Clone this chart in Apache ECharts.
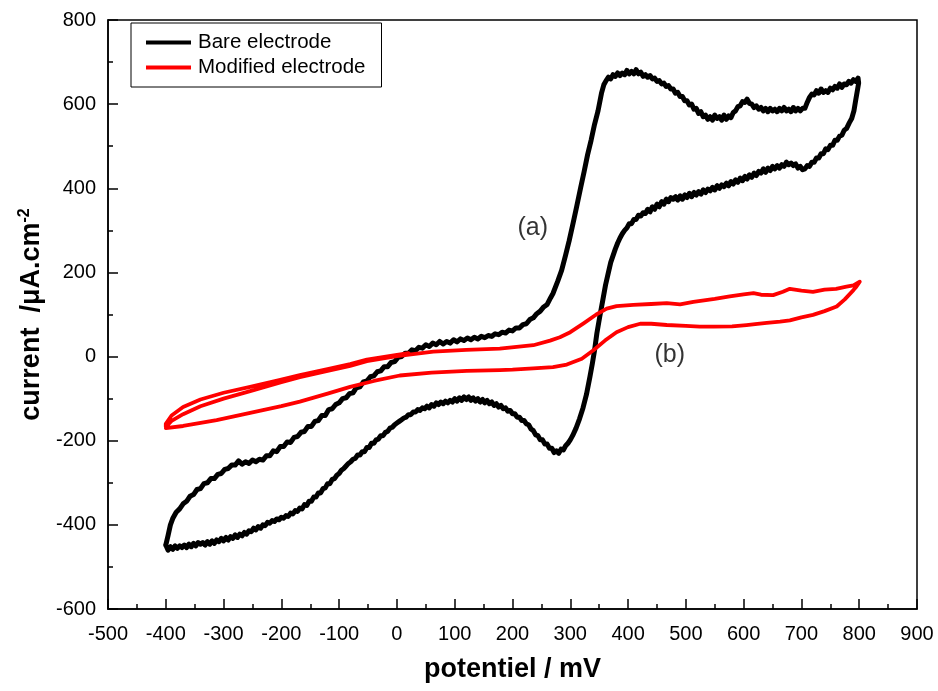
<!DOCTYPE html>
<html>
<head>
<meta charset="utf-8">
<script src="https://cdn.jsdelivr.net/npm/echarts@6/dist/echarts.min.js"></script>
<style>
  html, body { margin: 0; padding: 0; background: #fff; }
  #chart { width: 938px; height: 691px; }
</style>
</head>
<body>
<div id="chart"></div>
<script>
// Cyclic voltammograms: potential (mV) vs current density (µA.cm-2)

const seriesNames = ['Bare electrode', 'Modified electrode'];

// Bare electrode, anodic sweep -400 -> 800 mV
const bareForward = [
  [-400, -448], [-396, -425], [-392, -400], [-388, -385], [-382, -370], [-376, -362],
  [-370, -350], [-364, -344], [-358, -332], [-352, -328], [-346, -316], [-340, -314],
  [-334, -302], [-328, -300], [-322, -290], [-316, -290], [-310, -280], [-304, -278],
  [-298, -268], [-292, -266], [-286, -258], [-280, -258], [-274, -248], [-268, -256],
  [-262, -250], [-256, -254], [-250, -246], [-244, -250], [-238, -244], [-232, -246],
  [-226, -236], [-220, -236], [-214, -224], [-208, -226], [-202, -214], [-196, -214],
  [-190, -203], [-184, -204], [-178, -192], [-172, -190], [-166, -180], [-160, -178],
  [-154, -166], [-148, -166], [-142, -154], [-136, -152], [-130, -140], [-124, -140],
  [-118, -126], [-112, -124], [-106, -114], [-100, -110], [-94, -100], [-88, -98],
  [-82, -88], [-76, -86], [-70, -74], [-64, -72], [-58, -60], [-52, -58], [-46, -48],
  [-40, -46], [-34, -36], [-28, -34], [-22, -24], [-16, -24], [-10, -14], [-4, -12],
  [2, -2], [8, 0], [14, 8], [20, 8], [26, 16], [32, 14], [38, 22], [44, 20], [50, 28],
  [56, 24], [62, 32], [68, 28], [74, 36], [80, 30], [86, 36], [92, 32], [98, 40],
  [104, 35], [110, 42], [116, 38], [122, 44], [128, 40], [134, 46], [140, 42],
  [146, 48], [152, 45], [158, 50], [164, 48], [170, 54], [176, 52], [182, 58],
  [188, 56], [194, 63], [200, 61], [206, 68], [212, 68], [218, 76], [224, 78],
  [230, 88], [236, 92], [242, 102], [248, 108], [254, 118], [260, 124], [266, 140],
  [270, 150], [278, 178], [285, 205], [292, 242], [298, 275], [305, 318], [311, 356],
  [318, 402], [324, 440], [330, 480], [336, 514], [342, 552], [348, 584], [354, 626],
  [358, 646], [362, 656], [366, 664], [370, 660], [374, 670], [378, 666], [382, 674],
  [386, 668], [390, 674], [394, 670], [398, 680], [402, 672], [406, 678], [410, 672],
  [414, 682], [418, 672], [422, 676], [426, 666], [430, 670], [434, 664], [438, 668],
  [442, 660], [446, 662], [450, 654], [454, 656], [458, 648], [462, 650], [466, 642],
  [470, 644], [474, 636], [478, 636], [482, 626], [486, 628], [490, 618], [494, 618],
  [498, 608], [502, 608], [506, 598], [510, 600], [514, 588], [518, 590], [522, 578],
  [526, 582], [530, 570], [534, 574], [538, 564], [542, 570], [546, 562], [550, 574],
  [554, 566], [558, 570], [562, 562], [566, 574], [570, 564], [574, 572], [578, 568],
  [582, 580], [586, 584], [590, 594], [594, 596], [598, 606], [602, 604], [606, 612],
  [610, 602], [614, 600], [618, 592], [622, 596], [626, 588], [630, 592], [634, 584],
  [638, 590], [642, 582], [646, 590], [650, 584], [654, 588], [658, 582], [662, 590],
  [666, 584], [670, 592], [674, 584], [678, 588], [682, 582], [686, 592], [690, 584],
  [694, 590], [698, 584], [702, 590], [706, 590], [710, 604], [714, 616], [718, 624],
  [722, 622], [726, 632], [730, 626], [734, 636], [738, 628], [742, 632], [746, 628],
  [750, 638], [754, 634], [758, 642], [762, 638], [766, 648], [770, 640], [774, 648],
  [778, 646], [782, 654], [786, 650], [790, 658], [794, 654], [798, 662], [800, 666]
];

// Bare electrode, cathodic sweep 800 -> -400 mV
const bareReverse = [
  [800, 666], [799, 650], [797, 634], [794, 610], [791, 585], [787, 566], [783, 556],
  [778, 542], [774, 538], [770, 526], [766, 524], [762, 514], [758, 514], [754, 502],
  [750, 502], [746, 492], [742, 494], [738, 482], [734, 482], [730, 472], [726, 472],
  [722, 462], [718, 462], [714, 452], [710, 454], [706, 446], [702, 444], [698, 452],
  [694, 448], [690, 458], [686, 454], [682, 460], [678, 456], [674, 462], [670, 452],
  [666, 456], [662, 448], [658, 454], [654, 446], [650, 452], [646, 442], [642, 448],
  [638, 438], [634, 446], [630, 436], [626, 440], [622, 430], [618, 436], [614, 426],
  [610, 432], [606, 422], [602, 428], [598, 418], [594, 424], [590, 414], [586, 420],
  [582, 410], [578, 416], [574, 406], [570, 412], [566, 404], [562, 408], [558, 400],
  [554, 406], [550, 396], [546, 402], [542, 394], [538, 398], [534, 390], [530, 396],
  [526, 386], [522, 392], [518, 384], [514, 390], [510, 380], [506, 388], [502, 378],
  [498, 384], [494, 374], [490, 382], [486, 372], [482, 380], [478, 374], [474, 378],
  [470, 368], [466, 374], [462, 362], [458, 368], [454, 356], [450, 362], [446, 350],
  [442, 356], [438, 344], [434, 350], [430, 340], [426, 342], [422, 334], [418, 336],
  [414, 326], [410, 326], [406, 316], [402, 316], [398, 306], [394, 300], [390, 292],
  [386, 282], [382, 270], [378, 256], [374, 240], [370, 224], [366, 200], [361, 170],
  [356, 132], [351, 95], [346, 55], [342, 15], [338, -18], [334, -48], [328, -90],
  [322, -122], [316, -148], [310, -170], [304, -188], [300, -198], [296, -206],
  [292, -212], [288, -222], [284, -220], [280, -230], [276, -224], [272, -228],
  [268, -218], [264, -218], [260, -208], [256, -208], [252, -198], [248, -198],
  [244, -188], [240, -186], [236, -176], [232, -172], [228, -162], [224, -160],
  [220, -152], [216, -152], [212, -144], [208, -144], [204, -136], [200, -136],
  [196, -128], [192, -130], [188, -122], [184, -124], [180, -116], [176, -120],
  [172, -112], [168, -116], [164, -108], [160, -112], [156, -104], [152, -110],
  [148, -102], [144, -108], [140, -100], [136, -106], [132, -98], [128, -104],
  [124, -96], [120, -102], [116, -96], [112, -104], [108, -98], [104, -106],
  [100, -100], [96, -108], [92, -104], [88, -110], [84, -106], [80, -112], [76, -108],
  [72, -114], [68, -110], [64, -118], [60, -114], [56, -122], [52, -118], [48, -124],
  [44, -122], [40, -128], [36, -126], [32, -132], [28, -132], [24, -138], [20, -138],
  [16, -144], [12, -146], [8, -150], [4, -154], [0, -158], [-4, -162], [-8, -168],
  [-12, -170], [-16, -178], [-20, -180], [-24, -188], [-28, -188], [-32, -196],
  [-36, -198], [-40, -206], [-44, -206], [-48, -216], [-52, -216], [-56, -226],
  [-60, -226], [-64, -234], [-68, -234], [-72, -242], [-76, -244], [-80, -250],
  [-84, -254], [-88, -260], [-92, -266], [-96, -270], [-100, -278], [-104, -282],
  [-108, -290], [-112, -292], [-116, -302], [-120, -302], [-124, -312], [-128, -314],
  [-132, -324], [-136, -324], [-140, -334], [-144, -334], [-148, -344], [-152, -344],
  [-156, -354], [-160, -352], [-164, -362], [-168, -360], [-172, -368], [-176, -366],
  [-180, -374], [-184, -372], [-188, -380], [-192, -378], [-196, -384], [-200, -382],
  [-204, -388], [-208, -386], [-212, -392], [-216, -390], [-220, -396], [-224, -394],
  [-228, -402], [-232, -400], [-236, -408], [-240, -404], [-244, -412], [-248, -408],
  [-252, -416], [-256, -414], [-260, -422], [-264, -418], [-268, -426], [-272, -422],
  [-276, -430], [-280, -424], [-284, -432], [-288, -428], [-292, -436], [-296, -430],
  [-300, -438], [-304, -432], [-308, -440], [-312, -436], [-316, -444], [-320, -438],
  [-324, -446], [-328, -440], [-332, -448], [-336, -442], [-340, -446], [-344, -442],
  [-348, -450], [-352, -444], [-356, -452], [-360, -446], [-364, -454], [-368, -448],
  [-372, -454], [-376, -450], [-380, -456], [-384, -450], [-388, -458], [-392, -452],
  [-396, -460], [-400, -448]
];

// Modified electrode, initial sweep 20 -> -400 mV
const modifiedStart = [
  [20, 8], [0, 4], [-52, -7], [-81, -18], [-120, -30], [-168, -44], [-200, -55],
  [-254, -72], [-300, -86], [-340, -102], [-370, -120], [-390, -140], [-400, -160]
];

// Modified electrode, anodic sweep -400 -> 800 mV
const modifiedForward = [
  [-400, -167], [-390, -153], [-370, -137], [-340, -118], [-300, -100], [-254, -82],
  [-200, -61], [-168, -49], [-120, -34], [-81, -22], [-52, -11], [0, 1], [63, 12],
  [120, 16], [178, 19], [236, 27], [265, 38], [282, 46], [300, 58], [323, 79],
  [345, 100], [363, 114], [380, 120], [409, 123], [440, 125], [467, 127], [490, 124],
  [513, 130], [550, 137], [576, 143], [600, 148], [617, 151], [630, 147], [651, 146],
  [668, 154], [680, 161], [700, 157], [720, 154], [740, 159], [760, 161], [778, 166],
  [790, 169], [801, 178]
];

// Modified electrode, cathodic sweep 800 -> -400 mV
const modifiedReverse = [
  [801, 178], [795, 166], [790, 158], [775, 136], [761, 119], [740, 108], [720, 99],
  [700, 93], [680, 86], [663, 83], [640, 80], [620, 77], [605, 75], [580, 72],
  [548, 71], [524, 71], [500, 73], [467, 75], [440, 78], [421, 78], [400, 70],
  [380, 58], [360, 38], [340, 15], [320, -5], [294, -19], [270, -25], [236, -28],
  [200, -31], [178, -32], [121, -34], [60, -38], [5, -45], [-40, -58], [-81, -72],
  [-120, -88], [-168, -107], [-200, -118], [-254, -134], [-312, -151], [-370, -165],
  [-400, -170]
];

// Curve labels
const curveLabels = [
  { text: '(a)', x: 235, y: 305 },
  { text: '(b)', x: 472, y: 4 }
];

// Axis settings
const xRange = { min: -500, max: 900, step: 100 };
const yRange = { min: -600, max: 800, step: 200 };
const xTitle = 'potentiel / mV';
const yTitle = 'current  /μA.cm{sup|-2}';

const FONT = "'Liberation Sans', Arial, Helvetica, sans-serif";

const chart = echarts.init(document.getElementById('chart'), null, { renderer: 'canvas' });

const axisCommon = {
  axisLine: { show: true, onZero: false, lineStyle: { color: '#000', width: 1.5 } },
  axisTick: { show: true, inside: true, length: 10, lineStyle: { color: '#000', width: 1.5 } },
  minorTick: { show: true, splitNumber: 2, length: 5, lineStyle: { color: '#000', width: 1.5 } },
  splitLine: { show: false },
  axisLabel: { color: '#000', fontSize: 20, fontFamily: FONT }
};

chart.setOption({
  animation: false,
  backgroundColor: '#fff',
  grid: {
    left: 108, right: 21, top: 20, bottom: 82,
    containLabel: false,
    outerBoundsMode: 'none',
    show: true, borderColor: '#000', borderWidth: 1.5
  },
  legend: {
    data: seriesNames,
    orient: 'vertical',
    left: 131, top: 23,
    padding: [9, 16, 9, 15],
    itemGap: 4,
    itemWidth: 45, itemHeight: 4,
    icon: 'rect',
    borderColor: '#000', borderWidth: 1,
    textStyle: { color: '#000', fontSize: 20.5, fontFamily: FONT, padding: [0, 0, 0, 2] }
  },
  xAxis: Object.assign({}, axisCommon, {
    type: 'value',
    min: xRange.min, max: xRange.max, interval: xRange.step,
    axisLabel: Object.assign({}, axisCommon.axisLabel, { margin: 15 }),
    name: xTitle,
    nameLocation: 'middle',
    nameGap: 47,
    nameTextStyle: { color: '#000', fontSize: 27, fontWeight: 'bold', fontFamily: FONT }
  }),
  yAxis: Object.assign({}, axisCommon, {
    type: 'value',
    min: yRange.min, max: yRange.max, interval: yRange.step,
    axisLabel: Object.assign({}, axisCommon.axisLabel, { margin: 12 }),
    name: yTitle,
    nameLocation: 'middle',
    nameRotate: 90,
    nameGap: 57,
    nameTextStyle: {
      color: '#000', fontSize: 27, fontWeight: 'bold', fontFamily: FONT,
      rich: { sup: { fontSize: 16, fontWeight: 'bold', fontFamily: FONT, padding: [0, 0, 13, 0] } }
    }
  }),
  series: [
    {
      name: seriesNames[0],
      type: 'line',
      data: bareForward.concat(bareReverse),
      showSymbol: false,
      symbol: 'none',
      color: '#000',
      lineStyle: { color: '#000', width: 5, join: 'round', cap: 'round' },
      z: 3
    },
    {
      name: seriesNames[1],
      type: 'line',
      data: modifiedStart.concat(modifiedForward, modifiedReverse),
      showSymbol: false,
      symbol: 'none',
      color: '#ff0000',
      lineStyle: { color: '#ff0000', width: 3.8, join: 'round', cap: 'round' },
      z: 4
    },
    {
      type: 'scatter',
      data: curveLabels.map(d => ({ value: [d.x, d.y], name: d.text })),
      symbolSize: 0,
      silent: true,
      label: {
        show: true, position: 'inside',
        formatter: p => p.name,
        color: '#000', fontSize: 25, fontFamily: FONT
      },
      z: 5
    }
  ]
});
</script>
</body>
</html>
